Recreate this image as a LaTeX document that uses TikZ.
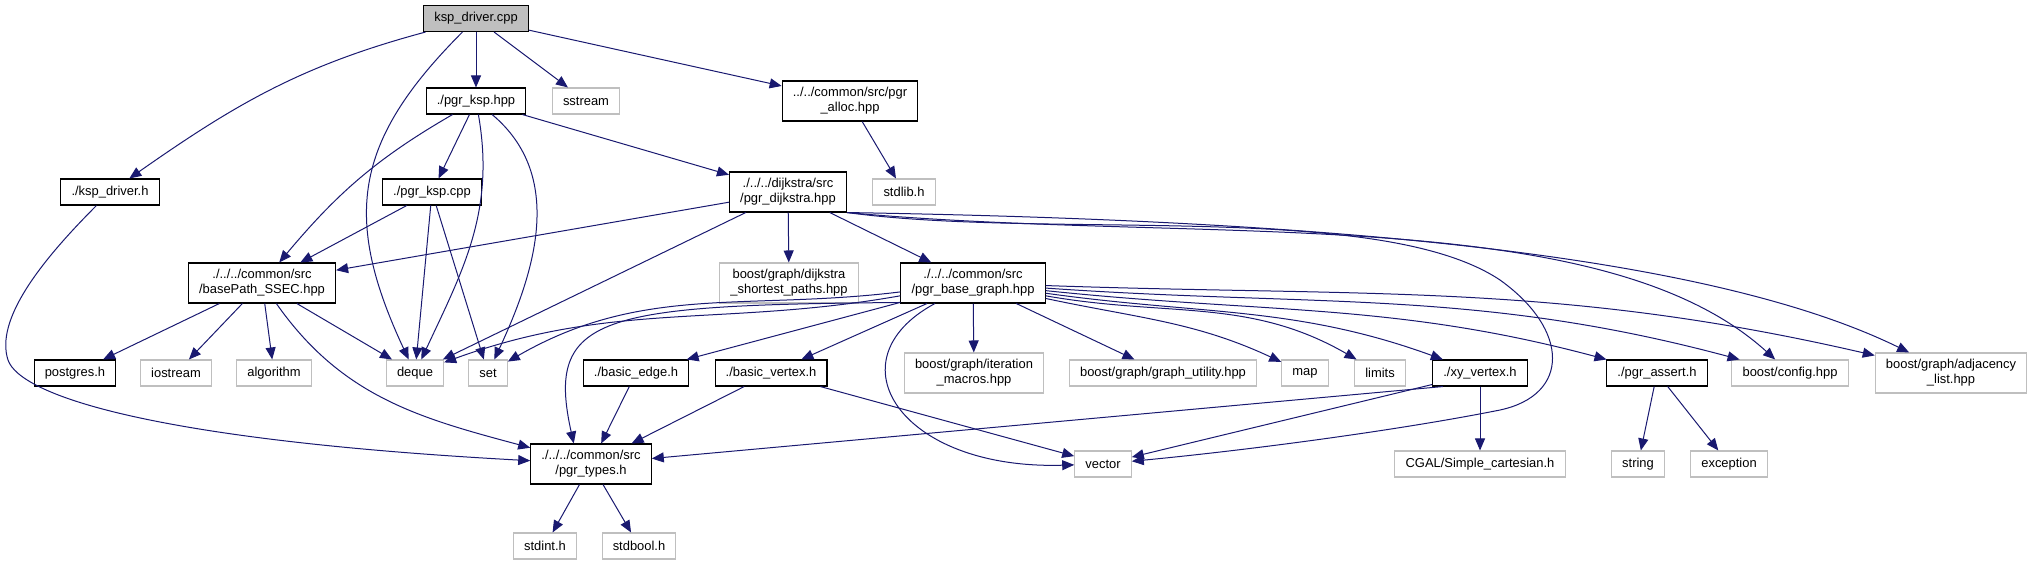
\documentclass[tikz,border=0pt]{standalone}
\usepackage{fontspec}
\setmainfont{Liberation Sans}
\usepackage{tikz}
\usetikzlibrary{arrows.meta}
\definecolor{edgeblue}{HTML}{191970}
\definecolor{extgray}{HTML}{BFBFBF}
\newfontfamily\docfont{Liberation Sans}
\tikzset{
	incfile/.style = {
		draw=black, 
		fill=white, 
		rectangle, 
		line width=0.8pt, 
		minimum height=19.5pt, 
		inner xsep=8pt, 
		inner ysep=1pt, 
		align=center, 
		font=\docfont\fontsize{9.7}{11.25}\selectfont
	},
	extfile/.style = {
		incfile, 
		draw=extgray
	},
	mainfile/.style = {
		incfile, 
		fill=extgray
	},
	twoline/.style = {
		minimum height=30pt
	},
	dep/.style = {
		->, 
		>={Triangle[length=9pt, width=7.5pt]}, 
		draw=edgeblue, 
		line width=0.75pt
	}
}

\begin{document}
\begin{tikzpicture}[x=0.75pt, y=-0.75pt]
		
		\useasboundingbox (0,0) rectangle (2033,565);
		
		\node [mainfile] (drv) at (476,18.5) {ksp\_driver.cpp};
		
		\node [incfile] (kspH) at (476,101) {./pgr\_ksp.hpp};
		\node [extfile] (sstream) at (586,101) {sstream};
		\node [incfile, twoline] (alloc) at (850,101) {../../common/src/pgr\\\_alloc.hpp};
		
		\node [incfile] (drvH) at (110,192) {./ksp\_driver.h};
		\node [incfile] (kspC) at (432,192) {./pgr\_ksp.cpp};
		\node [incfile, twoline] (dijk) at (788,192) {./../../dijkstra/src\\/pgr\_dijkstra.hpp};
		\node [extfile] (stdlib) at (904,192) {stdlib.h};
		
		\node [incfile, twoline] (ssec) at (262,283) {./../../common/src\\/basePath\_SSEC.hpp};
		\node [extfile, twoline] (bdsp) at (789,283) {boost/graph/dijkstra\\\_shortest\_paths.hpp};
		\node [incfile, twoline] (bgraph) at (973,283) {./../../common/src\\/pgr\_base\_graph.hpp};
		
		\node [incfile] (pgres) at (75,373) {postgres.h};
		\node [extfile] (iostream) at (176,373) {iostream};
		\node [extfile] (algo) at (274,373) {algorithm};
		\node [extfile] (deque) at (415,373) {deque};
		\node [extfile] (set) at (488,373) {set};
		\node [incfile] (bedge) at (636,373) {./basic\_edge.h};
		\node [incfile] (bvert) at (771,373) {./basic\_vertex.h};
		\node [extfile, twoline] (iter) at (974,373) {boost/graph/iteration\\\_macros.hpp};
		\node [extfile] (gutil) at (1163,373) {boost/graph/graph\_utility.hpp};
		\node [extfile] (map) at (1305,373) {map};
		\node [extfile] (limits) at (1380,373) {limits};
		\node [incfile] (xyvert) at (1480,373) {./xy\_vertex.h};
		\node [incfile] (passert) at (1657,373) {./pgr\_assert.h};
		\node [extfile] (bconfig) at (1790,373) {boost/config.hpp};
		\node [extfile, twoline] (adjlist) at (1951,373) {boost/graph/adjacency\\\_list.hpp};
		
		\node [incfile, twoline] (types) at (591,464) {./../../common/src\\/pgr\_types.h};
		\node [extfile] (vector) at (1103,464) {vector};
		\node [extfile] (cgal) at (1480,464) {CGAL/Simple\_cartesian.h};
		\node [extfile] (string) at (1638,464) {string};
		\node [extfile] (except) at (1729,464) {exception};
		
		\node [extfile] (stdint) at (545,546) {stdint.h};
		\node [extfile] (stdbool) at (639,546) {stdbool.h};
		
		% --- ksp_driver.cpp ---
		\draw [dep] (drv) to[out=195, in=35] (drvH);
		\draw [dep] (drv) to[out=225, in=115, looseness=1.2] (deque);
		\draw [dep] (drv) -- (kspH);
		\draw [dep] (drv) -- (sstream);
		\draw [dep] (drv) -- (alloc);
		
		% --- pgr_ksp.hpp / pgr_ksp.cpp ---
		\draw [dep] (kspH) to[out=210, in=50] (ssec);
		\draw [dep] (kspH) -- (kspC);
		\draw [dep] (kspH) to[out=-80, in=65] (deque);
		\draw [dep] (kspH) to[out=-40, in=65] (set);
		\draw [dep] (kspH) -- (dijk);
		\draw [dep] (kspC) -- (ssec);
		\draw [dep] (kspC) -- (deque);
		\draw [dep] (kspC) -- (set);
		\draw [dep] (alloc) -- (stdlib);
		
		% ksp_driver.h goes round the left side
		\draw [dep] (drvH) .. controls (40,262) and (-5,320) .. (8,360)
		.. controls (20,395) and (150,440) .. (types);
		
		% --- pgr_dijkstra.hpp ---
		\draw [dep] (dijk) -- (ssec);
		\draw [dep] (dijk) -- (deque);
		\draw [dep] (dijk) -- (bdsp);
		\draw [dep] (dijk) -- (bgraph);
		\draw [dep] (dijk.south east) .. controls (1200,245) and (1600,200) .. (bconfig);
		\draw [dep] (dijk.south east) .. controls (1300,220) and (1700,250) .. (adjlist);
		\draw [dep] (dijk.south east) .. controls (1050,240) and (1380,200) .. (1500,280)
		.. controls (1570,330) and (1570,395) .. (1500,410)
		.. controls (1400,430) and (1250,450) .. (vector);
		
		% --- pgr_base_graph.hpp ---
		\draw [dep] (bgraph) to[out=190, in=20] (deque);
		\draw [dep] (bgraph) to[out=187, in=30] (set);
		\draw [dep] (bgraph.195) .. controls (600,305) and (545,315) .. (types.130);
		\draw [dep] (bgraph) -- (bedge);
		\draw [dep] (bgraph) -- (bvert);
		\draw [dep] (bgraph) .. controls (830,360) and (900,470) .. (vector);
		\draw [dep] (bgraph) -- (iter);
		\draw [dep] (bgraph) -- (gutil);
		\draw [dep] (bgraph) to[out=-12, in=155] (map);
		\draw [dep] (bgraph) to[out=-10, in=150] (limits);
		\draw [dep] (bgraph) to[out=-8, in=160] (xyvert);
		\draw [dep] (bgraph) to[out=-6, in=165] (passert);
		\draw [dep] (bgraph) to[out=-4, in=165] (bconfig);
		\draw [dep] (bgraph) to[out=-2, in=167] (adjlist);
		
		% --- basePath_SSEC.hpp ---
		\draw [dep] (ssec) -- (pgres);
		\draw [dep] (ssec) -- (iostream);
		\draw [dep] (ssec) -- (algo);
		\draw [dep] (ssec) -- (deque);
		\draw [dep] (ssec) to[out=-55, in=165] (types);
		
		% --- lower headers ---
		\draw [dep] (bedge) -- (types);
		\draw [dep] (bvert) -- (types);
		\draw [dep] (bvert) -- (vector);
		\draw [dep] (xyvert.200) -- (types);
		\draw [dep] (xyvert) -- (vector);
		\draw [dep] (xyvert) -- (cgal);
		\draw [dep] (passert) -- (string);
		\draw [dep] (passert) -- (except);
		\draw [dep] (types) -- (stdint);
		\draw [dep] (types) -- (stdbool);
		
	\end{tikzpicture}
\end{document}
